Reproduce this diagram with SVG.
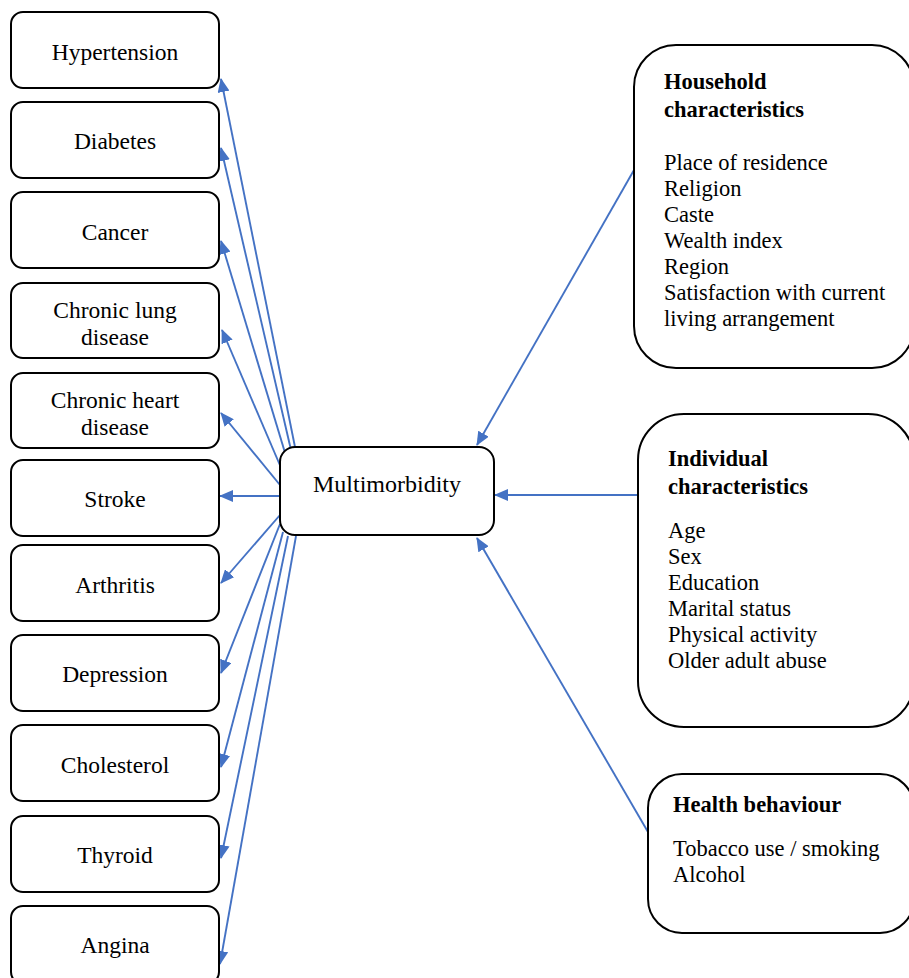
<svg xmlns="http://www.w3.org/2000/svg" width="909" height="978" viewBox="0 0 909 978">
<style>
.box{fill:#fff;stroke:#000;stroke-width:2}
.lbl{font-family:"Liberation Serif","Times New Roman",serif;font-size:23.5px;fill:#000;text-anchor:middle}
.ctr{font-family:"Liberation Serif","Times New Roman",serif;font-size:24px;fill:#000;text-anchor:middle}
.rt{font-family:"Liberation Serif","Times New Roman",serif;font-size:22.5px;fill:#000}
.b{font-weight:bold}
.con{stroke:#4472C4;stroke-width:1.9;fill:none;marker-end:url(#ah)}
</style>
<defs>
<marker id="ah" markerUnits="userSpaceOnUse" markerWidth="14" markerHeight="12" viewBox="0 0 14 12" refX="13" refY="6" orient="auto">
<path d="M0,0 L14,6 L0,12 Z" fill="#4472C4"/>
</marker>
</defs>
<rect width="909" height="978" fill="#fff"/>
<g id="connectors">
<line class="con" x1="295" y1="447" x2="221" y2="79"/>
<line class="con" x1="291" y1="450" x2="221" y2="148"/>
<line class="con" x1="286" y1="456" x2="221" y2="241"/>
<line class="con" x1="282" y1="470" x2="222" y2="330"/>
<line class="con" x1="280" y1="485" x2="221" y2="413"/>
<line class="con" x1="280" y1="496" x2="220" y2="496"/>
<line class="con" x1="280" y1="515" x2="221" y2="583"/>
<line class="con" x1="280" y1="524" x2="221" y2="673"/>
<line class="con" x1="283" y1="532" x2="221" y2="767"/>
<line class="con" x1="288" y1="536" x2="221" y2="858"/>
<line class="con" x1="296" y1="536" x2="220" y2="964"/>
<line class="con" x1="634" y1="170" x2="477" y2="445"/>
<line class="con" x1="638" y1="495" x2="495" y2="495"/>
<line class="con" x1="648" y1="832" x2="477" y2="538"/>
</g>
<g id="hypertension"><rect class="box" x="11" y="12" width="208" height="76" rx="12"/><text class="lbl" x="115" y="60">Hypertension</text></g>
<g id="diabetes"><rect class="box" x="11" y="102" width="208" height="76" rx="12"/><text class="lbl" x="115" y="149">Diabetes</text></g>
<g id="cancer"><rect class="box" x="11" y="192" width="208" height="76" rx="12"/><text class="lbl" x="115" y="240">Cancer</text></g>
<g id="lung"><rect class="box" x="11" y="283" width="208" height="75" rx="12"/><text class="lbl" x="115" y="318">Chronic lung</text><text class="lbl" x="115" y="345">disease</text></g>
<g id="heart"><rect class="box" x="11" y="373" width="208" height="75" rx="12"/><text class="lbl" x="115" y="408">Chronic heart</text><text class="lbl" x="115" y="435">disease</text></g>
<g id="stroke"><rect class="box" x="11" y="460" width="208" height="76" rx="12"/><text class="lbl" x="115" y="507">Stroke</text></g>
<g id="arthritis"><rect class="box" x="11" y="545" width="208" height="76" rx="12"/><text class="lbl" x="115" y="593">Arthritis</text></g>
<g id="depression"><rect class="box" x="11" y="635" width="208" height="76" rx="12"/><text class="lbl" x="115" y="682">Depression</text></g>
<g id="cholesterol"><rect class="box" x="11" y="725" width="208" height="76" rx="12"/><text class="lbl" x="115" y="773">Cholesterol</text></g>
<g id="thyroid"><rect class="box" x="11" y="816" width="208" height="76" rx="12"/><text class="lbl" x="115" y="863">Thyroid</text></g>
<g id="angina"><rect class="box" x="11" y="906" width="208" height="78" rx="12"/><text class="lbl" x="115" y="953">Angina</text></g>
<g id="multimorbidity"><rect class="box" x="280" y="447" width="214" height="88" rx="15"/><text class="ctr" x="387" y="492">Multimorbidity</text></g>
<g id="household"><rect class="box" x="634" y="45" width="280" height="323" rx="42"/>
<text class="rt b" x="664" y="89">Household</text>
<text class="rt b" x="664" y="117">characteristics</text>
<text class="rt" x="664" y="170">Place of residence</text>
<text class="rt" x="664" y="196">Religion</text>
<text class="rt" x="664" y="222">Caste</text>
<text class="rt" x="664" y="248">Wealth index</text>
<text class="rt" x="664" y="274">Region</text>
<text class="rt" x="664" y="300">Satisfaction with current</text>
<text class="rt" x="664" y="326">living arrangement</text>
</g>
<g id="individual"><rect class="box" x="638" y="414" width="276" height="313" rx="46"/>
<text class="rt b" x="668" y="466">Individual</text>
<text class="rt b" x="668" y="494">characteristics</text>
<text class="rt" x="668" y="538">Age</text>
<text class="rt" x="668" y="564">Sex</text>
<text class="rt" x="668" y="590">Education</text>
<text class="rt" x="668" y="616">Marital status</text>
<text class="rt" x="668" y="642">Physical activity</text>
<text class="rt" x="668" y="668">Older adult abuse</text>
</g>
<g id="health"><rect class="box" x="648" y="774" width="266" height="159" rx="34"/>
<text class="rt b" x="673" y="812">Health behaviour</text>
<text class="rt" x="673" y="856">Tobacco use / smoking</text>
<text class="rt" x="673" y="882">Alcohol</text>
</g>
</svg>
